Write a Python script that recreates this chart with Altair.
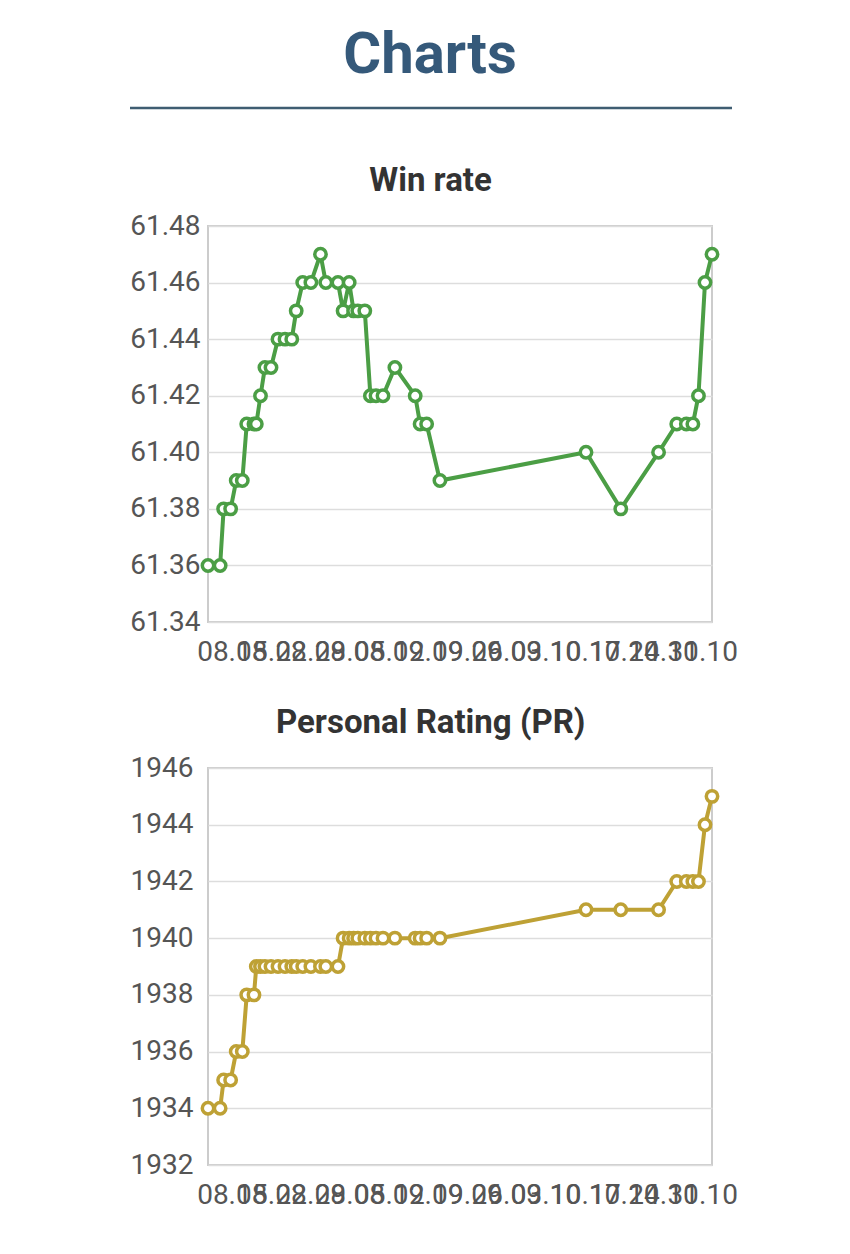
import altair as alt
import pandas as pd

# ---- data ----
dates = [
    "2022-08-03T18:00", "2022-08-05T22:00", "2022-08-06T13:00", "2022-08-07T19:00",
    "2022-08-08T19:00", "2022-08-09T21:00", "2022-08-10T16:00", "2022-08-11T23:00",
    "2022-08-12T09:00", "2022-08-13T03:00", "2022-08-13T22:00", "2022-08-15T00:00",
    "2022-08-16T06:00", "2022-08-17T12:00", "2022-08-18T17:00", "2022-08-19T12:00",
    "2022-08-20T16:00", "2022-08-22T03:00", "2022-08-23T20:00", "2022-08-24T19:00",
    "2022-08-26T23:00", "2022-08-27T21:00", "2022-08-28T23:00", "2022-08-29T18:00",
    "2022-08-30T12:00", "2022-08-31T18:00", "2022-09-01T18:00", "2022-09-02T18:00",
    "2022-09-04T00:00", "2022-09-06T03:00", "2022-09-09T18:00", "2022-09-10T15:00",
    "2022-09-11T19:00", "2022-09-14T04:00", "2022-10-10T06:00", "2022-10-16T11:00",
    "2022-10-23T05:00", "2022-10-26T11:00", "2022-10-28T04:00", "2022-10-29T08:00",
    "2022-10-30T08:00", "2022-10-31T12:00", "2022-11-01T18:00",
]
win_rate = [
    61.36, 61.36, 61.38, 61.38, 61.39, 61.39, 61.41, 61.41,
    61.41, 61.42, 61.43, 61.43, 61.44, 61.44, 61.44, 61.45,
    61.46, 61.46, 61.47, 61.46, 61.46, 61.45, 61.46, 61.45,
    61.45, 61.45, 61.42, 61.42, 61.42, 61.43, 61.42, 61.41,
    61.41, 61.39, 61.40, 61.38, 61.40, 61.41, 61.41, 61.41,
    61.42, 61.46, 61.47,
]
personal_rating = [
    1934, 1934, 1935, 1935, 1936, 1936, 1938, 1938,
    1939, 1939, 1939, 1939, 1939, 1939, 1939, 1939,
    1939, 1939, 1939, 1939, 1939, 1940, 1940, 1940,
    1940, 1940, 1940, 1940, 1940, 1940, 1940, 1940,
    1940, 1940, 1941, 1941, 1941, 1942, 1942, 1942,
    1942, 1944, 1945,
]
tick_days = [(8, 8), (8, 15), (8, 22), (8, 29), (9, 5), (9, 12), (9, 19),
             (9, 26), (10, 3), (10, 10), (10, 17), (10, 24), (10, 31)]
wr_ticks = [61.34, 61.36, 61.38, 61.40, 61.42, 61.44, 61.46, 61.48]
pr_ticks = [1932, 1934, 1936, 1938, 1940, 1942, 1944, 1946]

df = pd.DataFrame({"date": pd.to_datetime(dates), "win_rate": win_rate, "pr": personal_rating})

GREEN = "#4b9e45"
GOLD = "#bea135"
FONT = "Roboto"
PLOT_W = 504

x_axis = alt.Axis(
    values=[alt.DateTime(year=2022, month=m, date=d) for m, d in tick_days],
    format="%d.%m", labelOverlap=False, labelFlush=False, labelBound=False,
    grid=False, ticks=False, domain=False, labelPadding=16,
    labelFontSize=28, labelFont=FONT, labelColor="#555555",
)


def y_axis(vals, fmt, pad):
    return alt.Axis(values=vals, format=fmt, ticks=False, domain=False,
                    labelPadding=pad, labelFontSize=28, labelFont=FONT,
                    labelColor="#555555", gridColor="#dddddd", gridWidth=1.5)


def panel(field, color, ticks, fmt, pad, title, dx, h):
    base = alt.Chart(df)
    enc_x = alt.X("date:T", axis=x_axis, title=None)
    enc_y = alt.Y(f"{field}:Q", title=None, axis=y_axis(ticks, fmt, pad),
                  scale=alt.Scale(domain=[ticks[0], ticks[-1]], nice=False, zero=False))
    line = base.mark_line(color=color, strokeWidth=4).encode(x=enc_x, y=enc_y)
    pts = base.mark_point(filled=True, fill="white", stroke=color, strokeWidth=3.5,
                          size=130, opacity=1).encode(x=enc_x, y=enc_y)
    return (line + pts).properties(
        width=PLOT_W, height=h,
        view=alt.ViewBackground(stroke="#cccccc", strokeWidth=2),
        title=alt.TitleParams(title, font=FONT, fontSize=33, fontWeight="bold",
                              color="#333333", anchor="middle", frame="bounds",
                              baseline="bottom", offset=-19, dx=dx),
    )


header_text = alt.Chart(alt.Data(values=[{"t": "Charts"}])).mark_text(
    font=FONT, fontSize=58, fontWeight="bold", color="#35597a",
    baseline="alphabetic", align="center",
).encode(text="t:N", x=alt.value(222), y=alt.value(64))
header_rule = alt.Chart(alt.Data(values=[{"a": 1}])).mark_rule(
    color="#3f5d72", strokeWidth=2.5
).encode(x=alt.value(-78), x2=alt.value(524), y=alt.value(99))
header = alt.layer(header_text, header_rule).properties(
    width=524, height=115, view=alt.ViewBackground(stroke="transparent")
)

wr_chart = panel("win_rate", GREEN, wr_ticks, ".2f", 8, "Win rate", -3, 396)
pr_chart = panel("pr", GOLD, pr_ticks, "d", 15, "Personal Rating (PR)", -3, 397)

chart = alt.vconcat(header, wr_chart, pr_chart, spacing=39).properties(
    padding={"left": 120, "top": 0, "right": 0, "bottom": 0}
).configure_view(stroke=None)

chart.save("out.html", embed_options={"renderer": "svg", "actions": False})
